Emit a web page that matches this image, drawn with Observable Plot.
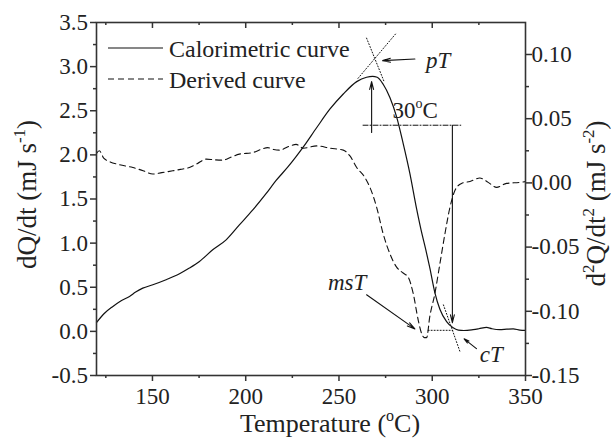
<!DOCTYPE html>
<html><head><meta charset="utf-8">
<script src="https://cdn.jsdelivr.net/npm/d3@7"></script>
<script src="https://cdn.jsdelivr.net/npm/@observablehq/plot@0.6"></script>
<style>
body{margin:0;background:#fff}
svg{display:block}
#chart svg text{font-family:"Liberation Serif","Times New Roman",serif}
</style>
</head><body><div id="chart"></div>
<script>
// Calorimetric curve (left axis, mJ/s)
const calT = [120,124,128.8,133,137.7,141,144.8,150.2,157.3,164.5,169.8,175.2,182.3,189.5,196.6,203.8,210.9,216.3,222.5,227,230.9,238.1,245.2,252.3,259.5,264.8,268,270.5,273.7,277.3,280.9,284.4,288,291.6,294,296.5,298.7,301.4,304.1,307.7,311.2,314,317,321.9,325,329.1,332,336.2,340,343.4,347,350];
const calQ = [0.10,0.20,0.283,0.345,0.396,0.445,0.49,0.528,0.585,0.653,0.717,0.792,0.924,1.037,1.206,1.376,1.56,1.71,1.86,1.98,2.09,2.31,2.52,2.69,2.83,2.88,2.89,2.88,2.80,2.65,2.43,2.13,1.79,1.39,1.15,0.93,0.72,0.44,0.25,0.11,0.04,0.015,0.01,0.02,0.03,0.045,0.03,0.02,0.025,0.028,0.015,0.012];
// Derived curve (right axis, mJ/s^2)
const derT = [120,121.5,124,126.1,132.3,139.5,145,150.2,155,160.9,165,169.8,174,178.8,183,187.7,192,196.6,203.8,208,211.8,215,218,223.8,227,230.9,238.1,245.2,252.3,255.9,259.5,263.9,266.6,270.2,273.7,277.3,280.9,284.4,287.1,289.8,292.5,294.3,295.8,297,298.7,301.4,304.1,306.8,309.5,312.1,315.7,320.2,325.5,330,334.5,339.8,347,350];
const derD = [0.023,0.025,0.019,0.0172,0.0141,0.012,0.0095,0.0069,0.008,0.0094,0.0105,0.012,0.015,0.0185,0.018,0.0177,0.020,0.0224,0.0236,0.026,0.0275,0.026,0.0255,0.0288,0.030,0.027,0.0288,0.027,0.0255,0.021,0.012,0.0042,-0.0035,-0.019,-0.0397,-0.0552,-0.0656,-0.0702,-0.0734,-0.0862,-0.107,-0.1173,-0.1205,-0.1205,-0.104,-0.0863,-0.063,-0.0397,-0.019,-0.0061,-0.0004,0.0011,0.0038,0.0004,-0.0035,-0.0004,0.0004,0.001];

const xTicks = [150,200,250,300,350];
const xMinor = [125,175,225,275,325];
const yTicks = [-0.5,0,0.5,1,1.5,2,2.5,3,3.5];
const yMinor = [-0.25,0.25,0.75,1.25,1.75,2.25,2.75,3.25];
const y2Ticks = [-0.15,-0.10,-0.05,0,0.05,0.10];
const y2Minor = [-0.125,-0.075,-0.025,0.025,0.075];

// Construction lines (in T, dQ/dt units)
const tanRiseT = [260.2,280.9], tanRiseQ = [2.867,3.384];
const tanFallT = [264.8,274.0], tanFallQ = [3.323,2.84];
const tanEndT = [306.0,314.8], tanEndQ = [0.30,-0.225];
const baseT = [297.8,311.0], baseQ = [0.012,0.012];
const dashDotT = [262.9,315.3], dashDotQ = [2.336,2.336];
// Arrows
const arrowT1 = [290.7,267.5,310.8,264.8,323.7];
const arrowQ1 = [3.087,2.254,2.336,0.415,-0.195];
const arrowT2 = [273.4,267.5,310.8,290.7,317.1];
const arrowQ2 = [3.068,2.83,0.099,0.028,-0.085];
// Labels
const labText = ["pT","msT","cT"];
const labT = [296.6,244.1,325.5];
const labQ = [2.99,0.472,-0.35];
const legendText = ["Calorimetric curve","Derived curve"];

const toQ = d => -0.5 + (d + 0.15) * 14.55;
const fromQ = q => (q + 0.5) / 14.55 - 0.15;
const fmt = (v, n) => { if (Math.abs(v) < 1e-9) v = 0; return v.toFixed(n); };

const cal = calT.map((T,i) => ({T, Q: calQ[i]}));
const der = derT.map((T,i) => ({T, Q: toQ(derD[i])}));
const seg = (Ts, Qs, k) => Ts.map((T,i) => ({T, Q: Qs[i], k}));
const dotted = [...seg(tanRiseT,tanRiseQ,"a"), ...seg(tanFallT,tanFallQ,"b"), ...seg(tanEndT,tanEndQ,"c"), ...seg(baseT,baseQ,"d")];
const arrows = arrowT1.map((t,i) => ({x1:t, y1:arrowQ1[i], x2:arrowT2[i], y2:arrowQ2[i]}));
const labels = labText.map((t,i) => ({t, T: labT[i], Q: labQ[i]}));

const W = 611, H = 438, mT = 22, mB = 63, mL = 96, mR = 86;
const innerH = H - mT - mB;
const ink = "#222", axc = "#333";
const ff = "'Liberation Serif', 'Times New Roman', serif";

const plot = Plot.plot({
  width: W, height: H,
  marginTop: mT, marginBottom: mB, marginLeft: mL, marginRight: mR,
  style: {fontFamily: ff, fontSize: "23px", color: ink, background: "#fff"},
  x: {domain: [120, 350], label: null},
  y: {domain: [-0.5, 3.5], label: null},
  marks: [
    Plot.line(cal, {x: "T", y: "Q", stroke: "#111", strokeWidth: 1.2, curve: "monotone-x"}),
    Plot.line(der, {x: "T", y: "Q", stroke: "#111", strokeWidth: 1.1, strokeDasharray: "6,4", curve: "monotone-x"}),
    Plot.line(dotted, {x: "T", y: "Q", z: "k", stroke: "#111", strokeWidth: 1, strokeDasharray: "1,2"}),
    Plot.line(seg(dashDotT, dashDotQ, "e"), {x: "T", y: "Q", stroke: "#111", strokeWidth: 1, strokeDasharray: "5,2,1,2"}),
    Plot.arrow(arrows, {x1: "x1", y1: "y1", x2: "x2", y2: "y2", stroke: "#111", strokeWidth: 1.1, headLength: 11, headAngle: 28}),
    Plot.text(labels, {x: "T", y: "Q", text: "t", textAnchor: "start", lineAnchor: "bottom", fontStyle: "italic", fontSize: 23, fontFamily: ff, fill: ink}),
    Plot.frame({stroke: axc, strokeWidth: 1.6}),
    Plot.axisX(xTicks, {anchor: "bottom", tickSize: 6, tickPadding: 6, tickFormat: d => String(d), fontFamily: ff, fontSize: 23, stroke: axc, strokeWidth: 1.5, fill: ink, label: null}),
    Plot.axisX(xMinor, {anchor: "bottom", tickSize: 3, tickFormat: () => "", stroke: axc, strokeWidth: 1.5, label: null}),
    Plot.ruleX(xTicks.slice(0, -1), {x: d => d, insetBottom: innerH - 6, stroke: axc, strokeWidth: 1.5}),
    Plot.ruleX(xMinor, {x: d => d, insetBottom: innerH - 3, stroke: axc, strokeWidth: 1.5}),
    Plot.axisY(yTicks, {anchor: "left", tickSize: 6, tickPadding: 2.5, tickFormat: d => fmt(d, 1), fontFamily: ff, fontSize: 23, stroke: axc, strokeWidth: 1.5, fill: ink, label: null}),
    Plot.axisY(yMinor, {anchor: "left", tickSize: 3, tickFormat: () => "", stroke: axc, strokeWidth: 1.5, label: null}),
    Plot.axisY(y2Ticks.map(toQ), {anchor: "right", tickSize: 6, tickPadding: 0, tickFormat: q => fmt(fromQ(q), 2), fontFamily: ff, fontSize: 23, stroke: axc, strokeWidth: 1.5, fill: ink, label: null}),
    Plot.axisY(y2Minor.map(toQ), {anchor: "right", tickSize: 3, tickFormat: () => "", stroke: axc, strokeWidth: 1.5, label: null})
  ]
});
document.getElementById("chart").appendChild(plot);

const svg = d3.select(plot);
const sx = plot.scale("x"), sy = plot.scale("y");

// text with superscripts; parts = [[str, isSup], ...]
function richText(g, parts, size, anchor) {
  const t = g.append("text").attr("font-family", ff).attr("font-size", size).attr("fill", ink).attr("text-anchor", anchor || "middle");
  let up = false;
  const shift = Math.round(size * 0.42);
  parts.forEach(([s, sup]) => {
    const ts = t.append("tspan").text(s);
    if (sup && !up) { ts.attr("font-size", Math.round(size * 0.62)).attr("dy", -shift); up = true; }
    else if (sup) { ts.attr("font-size", Math.round(size * 0.62)); }
    else if (!sup && up) { ts.attr("dy", shift); up = false; }
  });
  return t;
}

// axis titles
richText(svg.append("g").attr("transform", "translate(330,432)"), [["Temperature (", 0], ["o", 1], ["C)", 0]], 26);
richText(svg.append("g").attr("transform", `translate(36,${(mT + H - mB) / 2 - 4}) rotate(-90)`), [["dQ/dt (mJ s", 0], ["-1", 1], [")", 0]], 27);
richText(svg.append("g").attr("transform", `translate(605,${(mT + H - mB) / 2 + 5}) rotate(-90)`), [["d", 0], ["2", 1], ["Q/dt", 0], ["2", 1], [" (mJ s", 0], ["-2", 1], [")", 0]], 27);

// 30 oC annotation
richText(svg.append("g").attr("transform", `translate(${sx.apply(278.9)},${sy.apply(2.412)})`), [["30", 0], ["o", 1], ["C", 0]], 23, "start");

// legend
const lg = svg.append("g");
lg.append("line").attr("x1", 108).attr("x2", 163).attr("y1", 48).attr("y2", 48).attr("stroke", "#111").attr("stroke-width", 1.2);
lg.append("line").attr("x1", 108).attr("x2", 163).attr("y1", 79).attr("y2", 79).attr("stroke", "#111").attr("stroke-width", 1.1).attr("stroke-dasharray", "6,4");
lg.append("text").attr("x", 169).attr("y", 57).attr("text-anchor", "start").attr("font-family", ff).attr("font-size", 24).attr("fill", ink).text(legendText[0]);
lg.append("text").attr("x", 169).attr("y", 87.5).attr("text-anchor", "start").attr("font-family", ff).attr("font-size", 24).attr("fill", ink).text(legendText[1]);
</script>
</body></html>
